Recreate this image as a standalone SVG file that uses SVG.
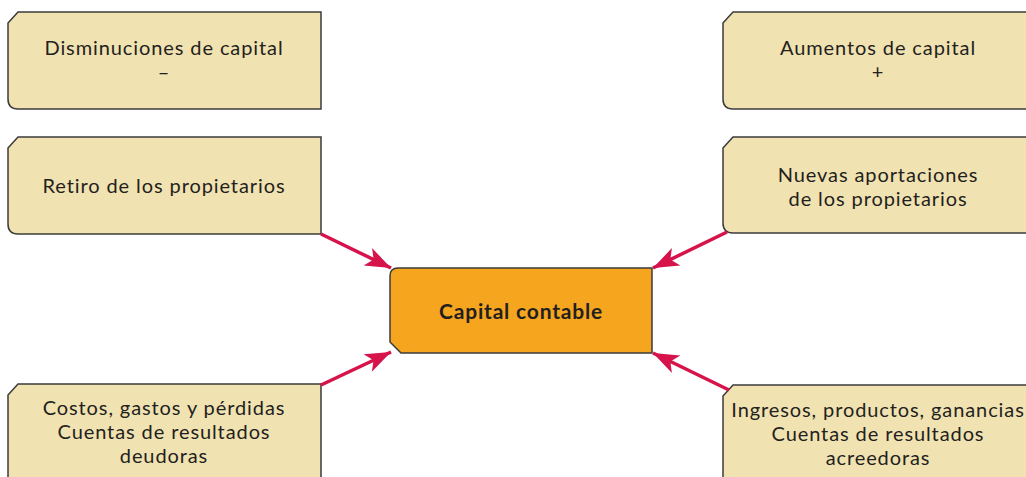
<svg xmlns="http://www.w3.org/2000/svg" width="1026" height="477" viewBox="0 0 1026 477">
<style>
.box{fill:#f1e2b1;stroke:#3b3b3b;stroke-width:1.5}
.core{fill:#f6a51f;stroke:#3b3b3b;stroke-width:1.5}
text{font-family:Lato,"Open Sans","DejaVu Sans",sans-serif;font-size:20px;letter-spacing:0.9px;fill:#231f20;text-anchor:middle}
.b{font-weight:bold;font-size:21px;letter-spacing:0.8px}
.arr{stroke:#d6134b;stroke-width:3.5;fill:none}
</style>
<defs>
<marker id="ah" markerUnits="userSpaceOnUse" markerWidth="30" markerHeight="30" viewBox="-26 -12 28 24" refX="0" refY="0" orient="auto">
<path d="M0,0 L-24,-9 L-18,0 L-24,9 Z" fill="#d6134b"/>
</marker>
</defs>
<rect width="1026" height="477" fill="#fff"/>
<g id="n1">
<path class="box" d="M8,23 L18,12 L321,12 L321,109 L18,109 Q8,109 8,99 Z"/>
<text x="164" y="55">Disminuciones de capital</text>
<text x="164" y="79">–</text>
</g>
<g id="n2">
<path class="box" d="M8,148 L18,137 L321,137 L321,234 L18,234 Q8,234 8,224 Z"/>
<text x="164" y="193">Retiro de los propietarios</text>
</g>
<g id="n3">
<path class="box" d="M8,395 L18,384 L321,384 L321,490 L8,490 Z"/>
<text x="164" y="415">Costos, gastos y pérdidas</text>
<text x="164" y="439">Cuentas de resultados</text>
<text x="164" y="463">deudoras</text>
</g>
<g id="n4">
<path class="box" d="M723,23 L733,12 L1040,12 L1040,109 L733,109 Q723,109 723,99 Z"/>
<text x="878" y="55">Aumentos de capital</text>
<text x="878" y="79">+</text>
</g>
<g id="n5">
<path class="box" d="M723,148 L733,137 L1040,137 L1040,233 L733,233 Q723,233 723,223 Z"/>
<text x="878" y="182">Nuevas aportaciones</text>
<text x="878" y="206">de los propietarios</text>
</g>
<g id="n6">
<path class="box" d="M723,396 L733,385 L1040,385 L1040,490 L723,490 Z"/>
<text x="878" y="417">Ingresos, productos, ganancias</text>
<text x="878" y="441">Cuentas de resultados</text>
<text x="878" y="465">acreedoras</text>
</g>
<g id="core">
<path class="core" d="M398,268 L652,268 L652,353 L401,353 L390,342 L390,276 Q390,268 398,268 Z"/>
<text class="b" x="521" y="319">Capital contable</text>
</g>
<g id="connectors">
<line class="arr" x1="321" y1="234" x2="391" y2="268" marker-end="url(#ah)"/>
<line class="arr" x1="727" y1="232" x2="653" y2="268" marker-end="url(#ah)"/>
<line class="arr" x1="321" y1="385" x2="391" y2="352" marker-end="url(#ah)"/>
<line class="arr" x1="729" y1="390" x2="653" y2="353" marker-end="url(#ah)"/>
</g>
</svg>
